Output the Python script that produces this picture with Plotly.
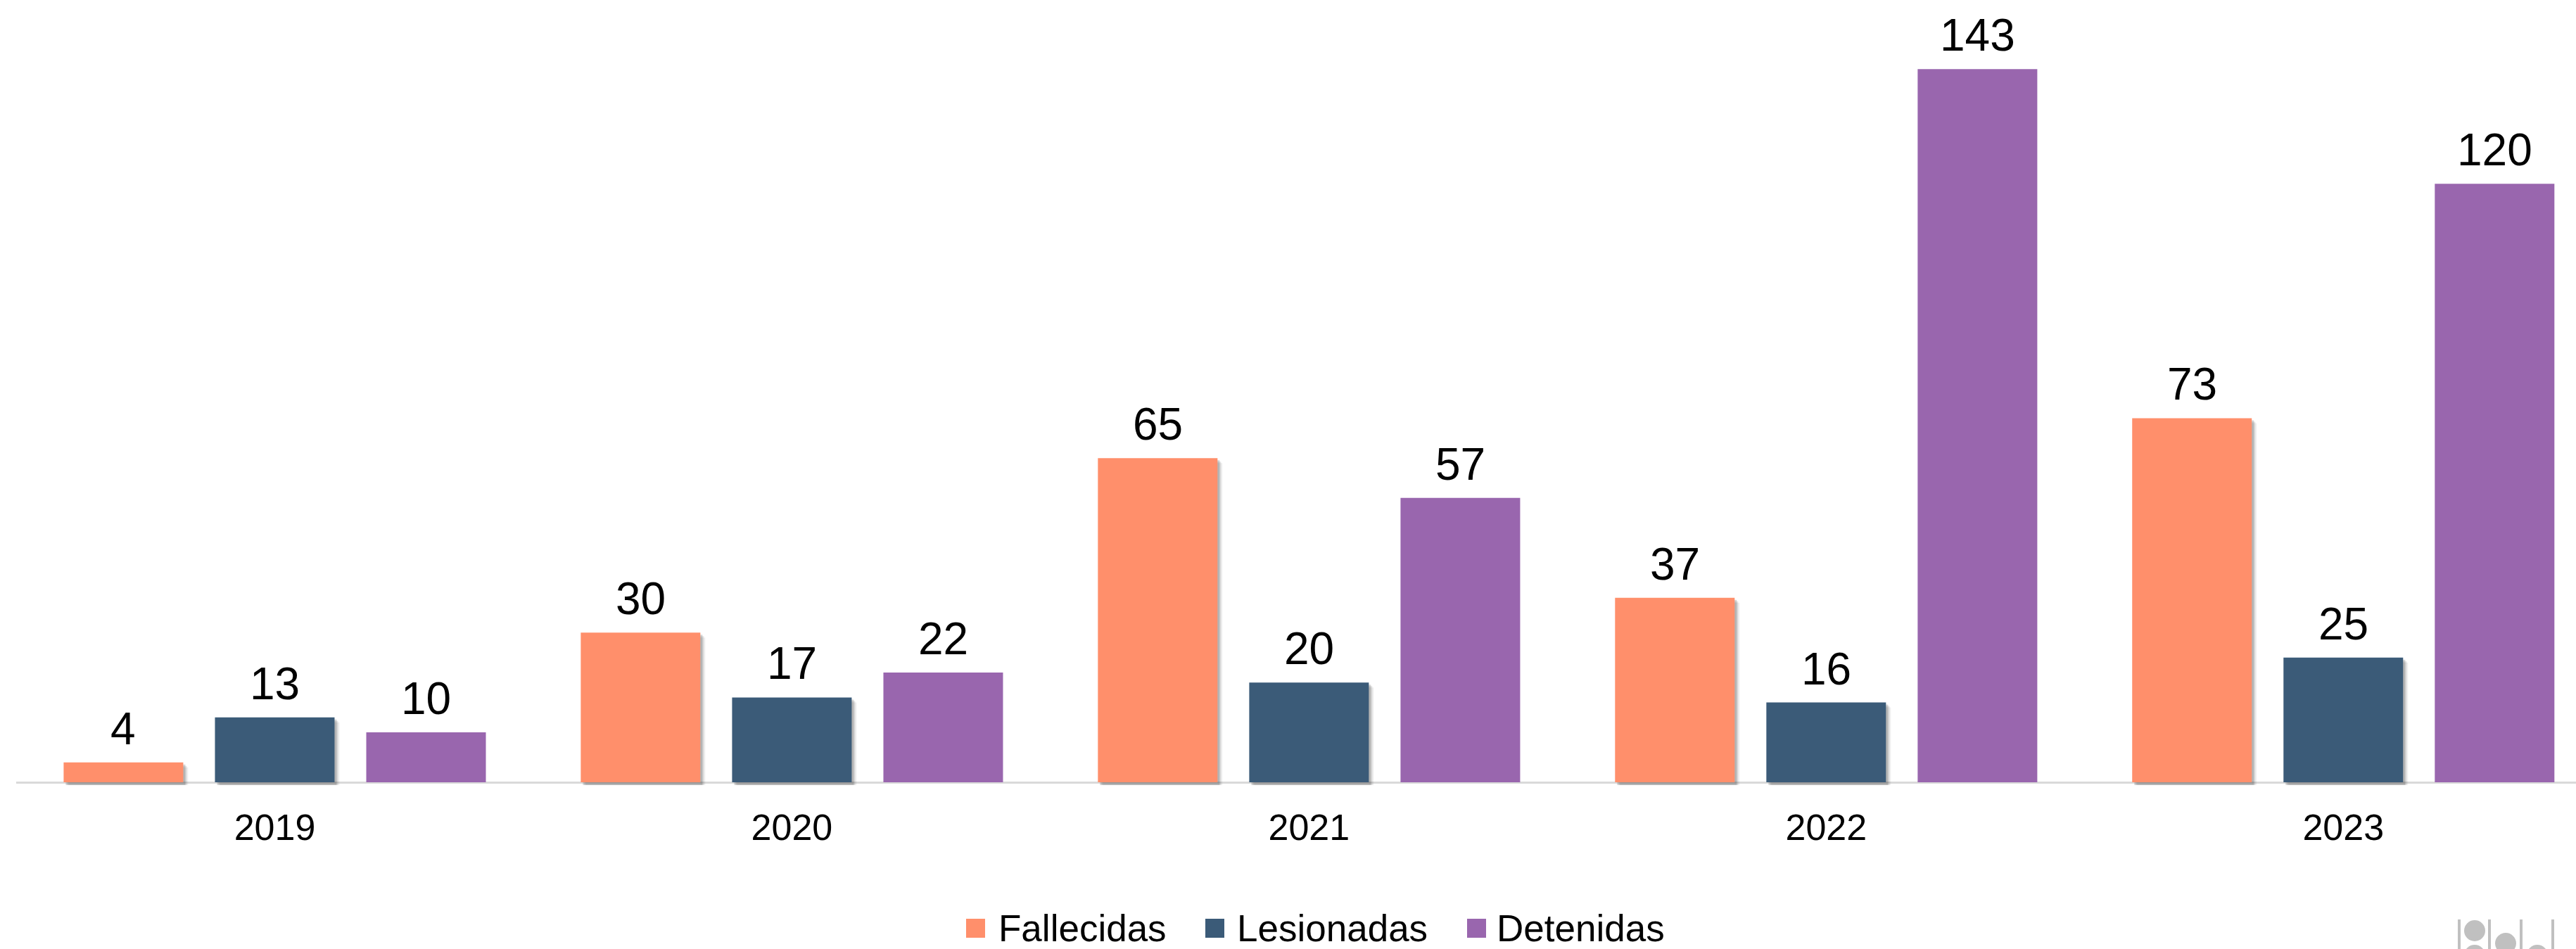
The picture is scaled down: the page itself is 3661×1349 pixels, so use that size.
import plotly.graph_objects as go

# Data
years = ["2019", "2020", "2021", "2022", "2023"]
fallecidas = [4, 30, 65, 37, 73]
lesionadas = [13, 17, 20, 16, 25]
detenidas = [10, 22, 57, 143, 120]

series_names = ["Fallecidas", "Lesionadas", "Detenidas"]
series_values = [fallecidas, lesionadas, detenidas]
series_colors = ["#FF8F6B", "#3B5B78", "#9966AE"]
series_shadow = [True, True, False]

# Canvas and plot-area geometry (pixels)
W, H = 3661, 1349
ML, MR, MT, MB = 23, 0, 0, 233
PW, PH = W - ML - MR, H - MT - MB
X_RANGE = [-0.5, 4.45]
PX_PER_UNIT_Y = 7.09
Y_BOTTOM = -4 / PX_PER_UNIT_Y          # a few pixels below zero for the bar shadows
Y_TOP = Y_BOTTOM + PH / PX_PER_UNIT_Y
PX_PER_UNIT_X = PW / (X_RANGE[1] - X_RANGE[0])

BAR_W = 0.2313
SLOT = 0.2926
slot_centers = [-SLOT, 0.0, SLOT]

FONT = "Liberation Sans, Arial, sans-serif"


def px_to_paper(px, py):
    return (px - ML) / PW, (MT + PH - py) / PH


fig = go.Figure()

# Soft drop shadows behind the first two series
for name, vals, shadow, c in zip(series_names, series_values, series_shadow, slot_centers):
    if not shadow:
        continue
    for shift_px, alpha in [(7, 0.06), (5, 0.10), (3, 0.16)]:
        dx = shift_px / PX_PER_UNIT_X
        dy = shift_px / PX_PER_UNIT_Y
        fig.add_trace(go.Bar(
            x=years,
            y=[v - dy - Y_BOTTOM for v in vals],
            base=Y_BOTTOM,
            width=BAR_W,
            offset=c - BAR_W / 2 + dx,
            marker=dict(color=f"rgba(0,0,0,{alpha})", line=dict(width=0)),
            showlegend=False,
            hoverinfo="skip",
        ))

# Bars
for name, vals, color, c in zip(series_names, series_values, series_colors, slot_centers):
    fig.add_trace(go.Bar(
        name=name,
        x=years,
        y=vals,
        width=BAR_W,
        offset=c - BAR_W / 2,
        marker=dict(color=color, line=dict(width=0)),
        showlegend=False,
    ))

annotations = []
# Value labels above each bar
for vals, c in zip(series_values, slot_centers):
    for i, v in enumerate(vals):
        annotations.append(dict(
            x=i + c, y=v, xref="x", yref="y",
            text=str(v), showarrow=False,
            yanchor="bottom", yshift=10,
            font=dict(family=FONT, size=64, color="#000000"),
        ))

# Custom legend below the axis
LEG_Y = 1319          # vertical centre of the legend row
legend_items = [(1373, 1417), (1713, 1756), (2085, 2125)]
shapes = []
for (sq_x, tx), name, color in zip(legend_items, series_names, series_colors):
    x0, y0 = px_to_paper(sq_x, LEG_Y + 14)
    x1, y1 = px_to_paper(sq_x + 27, LEG_Y - 13)
    shapes.append(dict(type="rect", xref="paper", yref="paper",
                       x0=x0, y0=y0, x1=x1, y1=y1,
                       fillcolor=color, line=dict(width=0)))
    ax, ay = px_to_paper(tx, LEG_Y)
    annotations.append(dict(
        x=ax, y=ay, xref="paper", yref="paper",
        text=name, showarrow=False, xanchor="left", yanchor="middle",
        font=dict(family=FONT, size=53, color="#000000"),
    ))

# Small grey logo in the bottom-right corner
LOGO = "#C0C0C0"
for lx in [3495, 3538, 3583, 3628]:
    x0, y0 = px_to_paper(lx, 1307)
    _, y1 = px_to_paper(lx, 1380)
    shapes.append(dict(type="line", xref="paper", yref="paper",
                       x0=x0, x1=x0, y0=y0, y1=y1,
                       line=dict(color=LOGO, width=4)))
for cx, cy in [(3517, 1323), (3517, 1358), (3561, 1341), (3606, 1358)]:
    r = 15
    x0, y0 = px_to_paper(cx - r, cy + r)
    x1, y1 = px_to_paper(cx + r, cy - r)
    shapes.append(dict(type="circle", xref="paper", yref="paper",
                       x0=x0, y0=y0, x1=x1, y1=y1,
                       fillcolor=LOGO, line=dict(width=0)))

fig.update_layout(
    width=W, height=H,
    margin=dict(l=ML, r=MR, t=MT, b=MB, pad=0),
    barmode="overlay",
    paper_bgcolor="#FFFFFF",
    plot_bgcolor="#FFFFFF",
    showlegend=False,
    font=dict(family=FONT, color="#000000"),
    annotations=annotations,
    shapes=shapes,
    xaxis=dict(
        type="category",
        range=X_RANGE,
        showgrid=False, showline=False, zeroline=False,
        ticks="",
        tickfont=dict(family=FONT, size=52, color="#000000"),
        ticklabelstandoff=25,
        fixedrange=True,
    ),
    yaxis=dict(
        range=[Y_BOTTOM, Y_TOP],
        showgrid=False, showticklabels=False, ticks="",
        zeroline=True, zerolinecolor="#D9D9D9", zerolinewidth=3,
        fixedrange=True,
    ),
)

fig.write_html("out.html")
